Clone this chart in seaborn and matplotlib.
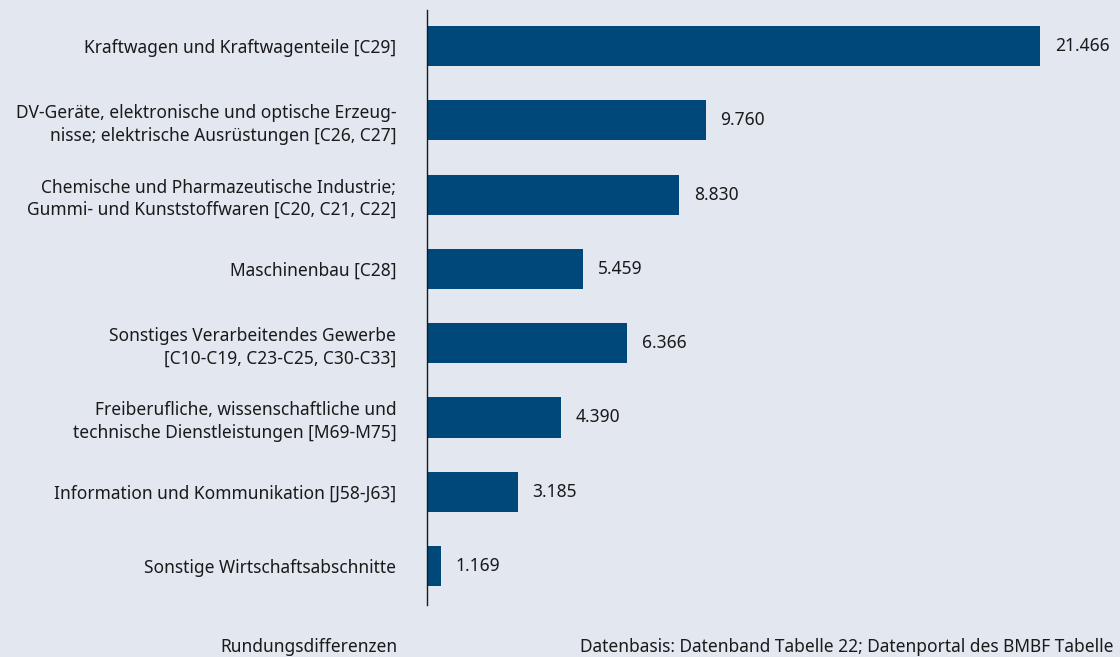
import pandas as pd
import matplotlib.pyplot as plt
import seaborn as sns

categories = [
    "Kraftwagen und Kraftwagenteile [C29]",
    "DV-Geräte, elektronische und optische Erzeug-\nnisse; elektrische Ausrüstungen [C26, C27]",
    "Chemische und Pharmazeutische Industrie;\nGummi- und Kunststoffwaren [C20, C21, C22]",
    "Maschinenbau [C28]",
    "Sonstiges Verarbeitendes Gewerbe\n[C10-C19, C23-C25, C30-C33]",
    "Freiberufliche, wissenschaftliche und\ntechnische Dienstleistungen [M69-M75]",
    "Information und Kommunikation [J58-J63]",
    "Sonstige Wirtschaftsabschnitte",
]
# bar lengths as drawn in the picture
bar_values = [21466, 9760, 8830, 5459, 7000, 4690, 3185, 500]
# value labels as printed
value_labels = ["21.466", "9.760", "8.830", "5.459", "6.366", "4.390", "3.185", "1.169"]

df = pd.DataFrame({"category": categories, "value": bar_values})

bg = "#e2e7f0"
bar_color = "#00477a"
txt = "#1a1a1a"
fs = 12.5

sns.set_theme(style="white")
plt.rcParams["font.family"] = ["Noto Sans", "DejaVu Sans"]

fig = plt.figure(figsize=(11.2, 6.57), dpi=100, facecolor=bg)
ax = fig.add_axes([0.381, 0.0791, 0.619, 0.9057])
ax.set_facecolor(bg)

sns.barplot(data=df, x="value", y="category", orient="h", color=bar_color,
            width=0.54, saturation=1, linewidth=0, ax=ax)

ax.set_xlim(0, 24265)
ax.set_ylim(7.525, -0.485)

for i, (v, lab) in enumerate(zip(bar_values, value_labels)):
    ax.text(v + 520, i, lab, va="center", ha="left", fontsize=fs, color=txt)

ax.set_xlabel("")
ax.set_ylabel("")
ax.set_xticks([])
ax.tick_params(axis="y", length=0, pad=22, labelsize=fs, labelcolor=txt)
for lbl in ax.get_yticklabels():
    lbl.set_horizontalalignment("right")
    lbl.set_multialignment("right")
    lbl.set_linespacing(1.3)

for s in ["top", "right", "bottom"]:
    ax.spines[s].set_visible(False)
ax.spines["left"].set_color(txt)
ax.spines["left"].set_linewidth(1.0)

fig.text(397 / 1120, 1 - 647 / 657, "Rundungsdifferenzen", ha="right", va="center",
         fontsize=fs, color=txt)
fig.text(580 / 1120, 1 - 647 / 657,
         "Datenbasis: Datenband Tabelle 22; Datenportal des BMBF Tabelle",
         ha="left", va="center", fontsize=fs, color=txt)

fig.savefig("out.png", dpi=100, facecolor=bg)
